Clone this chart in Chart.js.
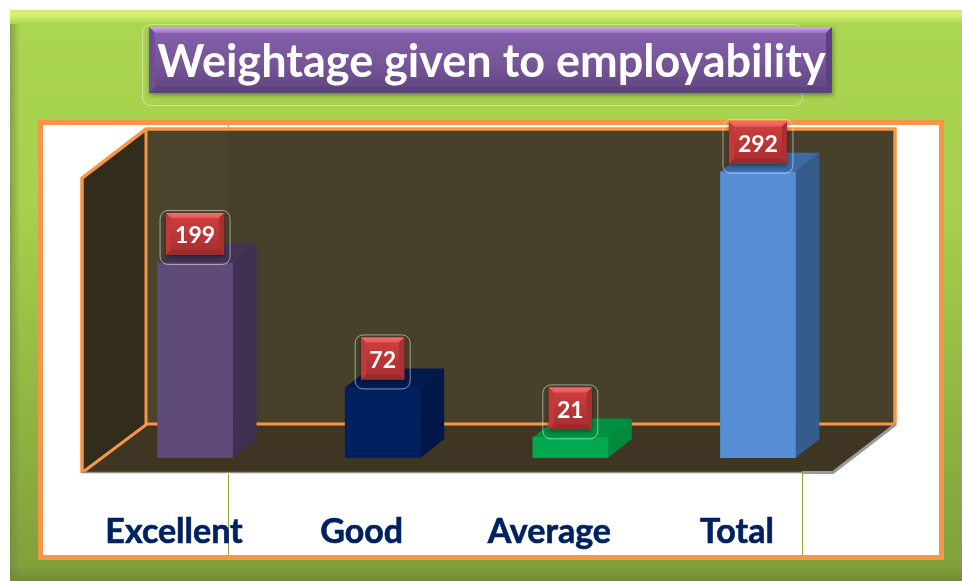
<!DOCTYPE html>
<html><head><meta charset="utf-8">
<style>html,body{margin:0;padding:0;background:#fff}canvas{display:block}</style>
<script src="https://cdn.jsdelivr.net/npm/chart.js@4"></script>
</head><body><canvas id="c" width="962" height="581"></canvas>
<script>
const categories = ["Excellent", "Good", "Average", "Total"];
const values = [199, 72, 21, 292];
const titleText = "Weightage given to employability";
const frontColors = ["#5f4b7a", "#002060", "#00a84f", "#558ed5"];
const sideColors = ["#3f3053", "#001747", "#008a3e", "#355c8c"];
const topColors = ["#443359", "#001a50", "#00913f", "#3a6ba5"];

const DX = 24, DY = -19;
function poly(ctx, pts, fill, stroke, lw) {
  ctx.beginPath();
  pts.forEach((p, i) => i ? ctx.lineTo(p[0], p[1]) : ctx.moveTo(p[0], p[1]));
  if (fill) { ctx.fillStyle = fill; ctx.closePath(); ctx.fill(); }
  if (stroke) { ctx.strokeStyle = stroke; ctx.lineWidth = lw; ctx.stroke(); }
}
function vgrad(ctx, y0, y1, stops) {
  const g = ctx.createLinearGradient(0, y0, 0, y1);
  stops.forEach(s => g.addColorStop(s[0], s[1]));
  return g;
}
function bevelBox(ctx, x0, y0, x1, y1, b, c) {
  ctx.fillStyle = vgrad(ctx, y0, y1, c.face);
  ctx.fillRect(x0, y0, x1 - x0, y1 - y0);
  poly(ctx, [[x0, y0], [x1, y0], [x1 - b, y0 + b], [x0 + b, y0 + b]], vgrad(ctx, y0, y0 + b, c.top));
  poly(ctx, [[x0, y0], [x0 + b, y0 + b], [x0 + b, y1 - b], [x0, y1]], c.left);
  poly(ctx, [[x1, y0], [x1 - b, y0 + b], [x1 - b, y1 - b], [x1, y1]], c.right);
  poly(ctx, [[x0, y1], [x0 + b, y1 - b], [x1 - b, y1 - b], [x1, y1]], c.bottom);
}
function rr(ctx, x, y, w, h, r, stroke) {
  ctx.beginPath(); ctx.roundRect(x, y, w, h, r);
  ctx.strokeStyle = stroke; ctx.lineWidth = 1; ctx.stroke();
}

const scenery = {
  id: "scenery",
  afterLayout(chart) {
    // the heading sits over its plate, not over the plot's centre
    chart.titleBlock.left += 15;
    chart.titleBlock.right += 15;
  },
  beforeDraw(chart) {
    const ctx = chart.ctx;
    ctx.save();
    ctx.fillStyle = "#fff"; ctx.fillRect(0, 0, 962, 581);
    // green panel
    ctx.fillStyle = vgrad(ctx, 10, 581, [[0, "#abd651"], [0.35, "#a6d04d"], [0.7, "#90b542"], [1, "#7f9f3b"]]);
    ctx.fillRect(10, 10, 952, 571);
    ctx.fillStyle = vgrad(ctx, 10, 24, [[0, "#d2e97a"], [0.35, "#d6f06f"], [1, "#abd651"]]);
    ctx.fillRect(10, 10, 952, 14);
    let g = ctx.createLinearGradient(9, 0, 20, 0);
    g.addColorStop(0, "rgba(110,135,60,.7)"); g.addColorStop(1, "rgba(110,135,60,0)");
    ctx.fillStyle = g; ctx.fillRect(10, 24, 11, 557);
    ctx.fillStyle = vgrad(ctx, 566, 581, [[0, "rgba(110,135,50,0)"], [1, "rgba(110,135,50,.8)"]]);
    ctx.fillRect(10, 566, 952, 15);

    // title plate, with its faint outline behind it
    rr(ctx, 142.5, 24.5, 660, 81, 8, "rgba(225,240,190,.65)");
    ctx.save();
    ctx.shadowColor = "rgba(50,60,20,.55)"; ctx.shadowBlur = 5; ctx.shadowOffsetX = 1; ctx.shadowOffsetY = 2;
    ctx.fillStyle = "#614884"; ctx.fillRect(149, 27, 683, 66);
    ctx.restore();
    bevelBox(ctx, 149, 27, 832, 93, 6, {
      face: [[0, "#8661ad"], [0.55, "#765598"], [1, "#604580"]],
      top: [[0, "#d2a8fb"], [1, "#9a70c4"]],
      left: "#6f4f99", right: "#5b4180", bottom: "#5c437c"
    });

    // orange frame with white inside
    ctx.fillStyle = "#fff"; ctx.fillRect(38, 120, 906, 440);
    ctx.strokeStyle = "#f79646"; ctx.lineWidth = 5;
    ctx.strokeRect(40.5, 122.5, 901, 435);

    // back wall, side wall, floor
    poly(ctx, [[147, 129], [895, 129], [895, 424], [147, 424]], "#47402a");
    ctx.fillStyle = "#4b442d"; ctx.fillRect(147, 129, 81, 295);
    poly(ctx, [[82, 178], [147, 129], [147, 424], [82, 472]], "#322c1c");
    poly(ctx, [[82, 472], [147, 424], [895, 424], [833, 472]], "#3e3522");

    // wall outlines
    poly(ctx, [[82, 473], [82, 178], [146, 129], [895, 129], [895, 424]], null, "#f79646", 3.5);
    poly(ctx, [[146, 129], [146, 424]], null, "#f79646", 3);
    poly(ctx, [[83, 472], [147, 424], [895, 424]], null, "#f79646", 3);
    poly(ctx, [[82, 472.5], [802, 472.5]], null, "#8f8c80", 1.5);
    poly(ctx, [[802, 472.5], [833, 472.5], [896, 424]], null, "#9a9a9a", 3);

    // thin green seams
    ctx.fillStyle = "#8aae3a";
    ctx.fillRect(228, 474, 1, 81); ctx.fillRect(802, 474, 1, 81);
    ctx.fillRect(228, 125, 1, 2);
    ctx.restore();
  },
  beforeDatasetsDraw(chart) {
    const ctx = chart.ctx;
    chart.getDatasetMeta(0).data.forEach((el, i) => {
      const p = el.getProps(["x", "y", "base", "width"], true);
      const l = p.x - p.width / 2, r = p.x + p.width / 2;
      poly(ctx, [[r, p.y], [r + DX, p.y + DY], [r + DX, p.base + DY], [r, p.base]], sideColors[i]);
      poly(ctx, [[l, p.y], [l + DX, p.y + DY], [r + DX, p.y + DY], [r, p.y]], topColors[i]);
    });
  },
  afterDatasetsDraw(chart) {
    const ctx = chart.ctx;
    ctx.save();
    ctx.font = "bold 23px Lato";
    ctx.textAlign = "center"; ctx.textBaseline = "middle";
    chart.getDatasetMeta(0).data.forEach((el, i) => {
      const p = el.getProps(["x", "y"], true);
      const txt = String(values[i]);
      const w = txt.length > 2 ? 58 : 43, h = 42;
      const cy = p.y - 29, x0 = p.x - w / 2, y0 = cy - h / 2;
      ctx.save();
      ctx.shadowColor = "rgba(0,0,0,.45)"; ctx.shadowBlur = 4; ctx.shadowOffsetY = 2;
      ctx.fillStyle = "#a92f30"; ctx.fillRect(x0, y0, w, h);
      ctx.restore();
      bevelBox(ctx, x0, y0, x0 + w, y0 + h, 5, {
        face: [[0, "#d0403f"], [1, "#a62d2e"]],
        top: [[0, "#fb6c6c"], [1, "#e85556"]],
        left: "#c03a3a", right: "#a83031", bottom: "#9a2b2c"
      });
      rr(ctx, x0 - 6, y0 - 2.5, w + 12, h + 12, 8, "rgba(225,225,225,.6)");
      ctx.fillStyle = "#fff";
      ctx.fillText(txt, p.x, cy + 2);
    });
    ctx.restore();
  }
};

new Chart(document.getElementById("c"), {
  type: "bar",
  data: {
    labels: categories,
    datasets: [{ data: values, backgroundColor: frontColors, borderWidth: 0, barThickness: 75 }]
  },
  plugins: [scenery],
  options: {
    responsive: false,
    animation: false,
    layout: { padding: { left: 101.25, right: 110.25, top: 0, bottom: 20.6 } },
    plugins: {
      legend: { display: false },
      tooltip: { enabled: false },
      title: {
        display: true, text: titleText, color: "#ffffff",
        font: { family: "Lato", weight: "bold", size: 45, lineHeight: 1.2 },
        padding: { top: 35, bottom: 75 }
      }
    },
    scales: {
      y: { display: false, min: 0, max: 300 },
      x: {
        grid: { display: false, tickLength: 45.6 }, border: { display: false },
        ticks: {
          color: "#002060", padding: 8, labelOffset: -21, maxRotation: 0, autoSkip: false,
          textStrokeColor: "#002060", textStrokeWidth: 0.6,
          font: { family: "Lato", weight: "bold", size: 34, lineHeight: 1.2 }
        }
      }
    }
  }
});
</script></body></html>
